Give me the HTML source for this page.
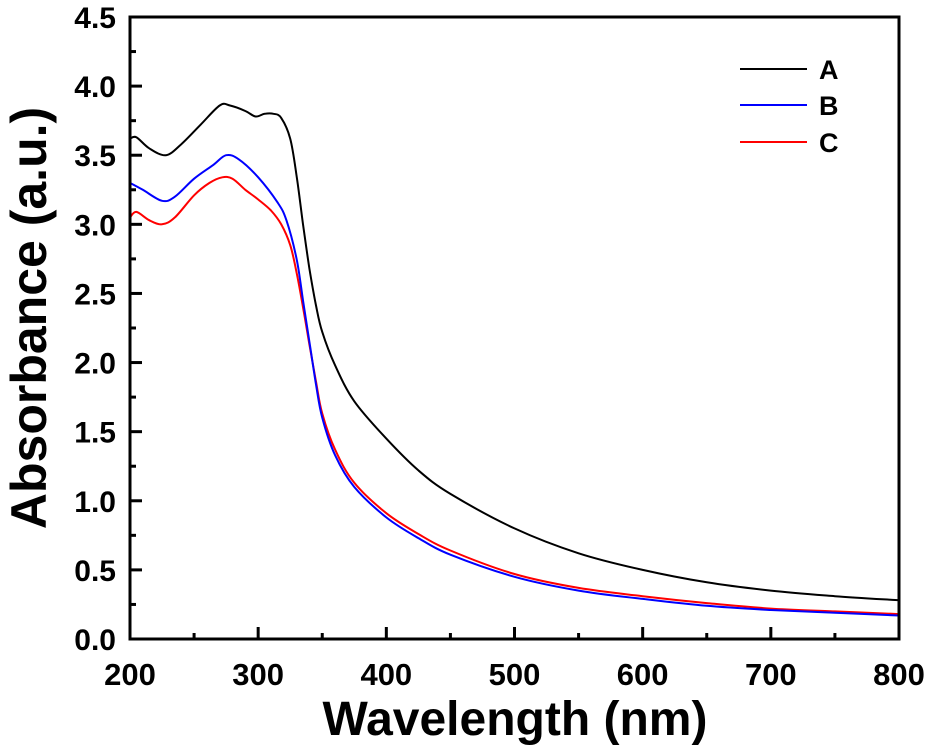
<!DOCTYPE html>
<html><head><meta charset="utf-8"><style>
html,body{margin:0;padding:0;background:#fff;}
svg{display:block;font-family:"Liberation Sans",Arial,sans-serif;font-weight:bold;}
</style></head><body>
<svg id="chart" width="930" height="750"></svg>
<script>
const xTicks=[200,300,400,500,600,700,800];
const yTicks=[0,0.5,1,1.5,2,2.5,3,3.5,4,4.5];
const yTickLabels=["0.0","0.5","1.0","1.5","2.0","2.5","3.0","3.5","4.0","4.5"];
const seriesNames=["A","B","C"];
const wlA=[200,205,215,228,240,255,270,278,290,298,305,312,318,325,330,335,340,345,350,360,375,400,425,450,500,550,600,650,700,750,800];
const absA=[3.62,3.63,3.55,3.50,3.58,3.72,3.86,3.86,3.82,3.78,3.80,3.80,3.77,3.62,3.35,3.0,2.68,2.42,2.22,1.98,1.72,1.45,1.22,1.05,0.80,0.62,0.50,0.41,0.35,0.31,0.28];
const wlB=[200,210,225,235,250,265,275,285,300,315,322,330,335,340,345,350,360,375,400,425,450,500,550,600,650,700,750,800];
const absB=[3.30,3.25,3.17,3.20,3.33,3.43,3.50,3.47,3.34,3.16,3.03,2.75,2.45,2.15,1.85,1.60,1.33,1.10,0.88,0.73,0.61,0.45,0.35,0.29,0.24,0.21,0.19,0.17];
const wlC=[200,205,215,225,235,250,262,272,280,290,300,310,318,325,330,335,340,345,350,360,375,400,425,450,500,550,600,650,700,750,800];
const absC=[3.05,3.09,3.03,3.00,3.05,3.21,3.30,3.34,3.33,3.25,3.18,3.10,3.00,2.85,2.65,2.40,2.13,1.87,1.63,1.37,1.13,0.91,0.76,0.64,0.47,0.37,0.31,0.26,0.22,0.20,0.18];
const colors=["#000000","#0000ff","#ff0000"];
const X0=130,X1=899,Y0=639,Y1=17;
const xs=v=>X0+(v-200)/600*(X1-X0);
const ys=v=>Y0-(v/4.5)*(Y0-Y1);
const svg=document.getElementById('chart');
const NS="http://www.w3.org/2000/svg";
function mk(t,a,p){const e=document.createElementNS(NS,t);for(const k in a)e.setAttribute(k,a[k]);(p||svg).appendChild(e);return e;}
function smooth(pts){
  let d='M'+pts[0][0].toFixed(1)+' '+pts[0][1].toFixed(1);
  for(let i=0;i<pts.length-1;i++){
    const p0=pts[Math.max(0,i-1)],p1=pts[i],p2=pts[i+1],p3=pts[Math.min(pts.length-1,i+2)];
    const c1=[p1[0]+(p2[0]-p0[0])/6,p1[1]+(p2[1]-p0[1])/6];
    const c2=[p2[0]-(p3[0]-p1[0])/6,p2[1]-(p3[1]-p1[1])/6];
    d+=' C'+c1.map(v=>v.toFixed(1)).join(' ')+' '+c2.map(v=>v.toFixed(1)).join(' ')+' '+p2[0].toFixed(1)+' '+p2[1].toFixed(1);
  }
  return d;
}
const data=[[wlA,absA],[wlB,absB],[wlC,absC]];
[2,1,0].forEach(i=>{
  const [w,a]=data[i];
  const pts=w.map((v,j)=>[xs(v),ys(a[j])]);
  const p=mk('path',{d:smooth(pts),fill:'none',stroke:colors[i],'stroke-width':2,'stroke-linejoin':'round'});
  
  
});
const fr=mk('rect',{x:X0,y:Y1,width:X1-X0,height:Y0-Y1,fill:'none',stroke:'#000','stroke-width':3});


xTicks.forEach((v,i)=>{
  mk('line',{x1:xs(v),x2:xs(v),y1:Y0,y2:Y0-12,stroke:'#000','stroke-width':3});
  if(i<xTicks.length-1){const m=v+50;mk('line',{x1:xs(m),x2:xs(m),y1:Y0,y2:Y0-6,stroke:'#000','stroke-width':3});}
  const t=mk('text',{x:xs(v),y:Y0+46,'text-anchor':'middle','font-size':31});
  t.textContent=v;
  
  
});
yTicks.forEach((v,i)=>{
  mk('line',{x1:X0,x2:X0+12,y1:ys(v),y2:ys(v),stroke:'#000','stroke-width':3});
  if(i<yTicks.length-1){const m=v+0.25;mk('line',{x1:X0,x2:X0+6,y1:ys(m),y2:ys(m),stroke:'#000','stroke-width':3});}
  const t=mk('text',{x:X0-14,y:ys(v)+11,'text-anchor':'end','font-size':30});
  t.textContent=yTickLabels[i];
  
  
});
const xt=mk('text',{x:515,y:735,'text-anchor':'middle','font-size':48});
xt.textContent='Wavelength (nm)';


const yt=mk('text',{x:0,y:0,'text-anchor':'middle','font-size':50,transform:'translate(46,318) rotate(-90)'});
yt.textContent='Absorbance (a.u.)';


const ly=[69,105,142];
seriesNames.forEach((n,i)=>{
  const g=mk('g',{});
  
  
  mk('line',{x1:740,x2:807,y1:ly[i],y2:ly[i],stroke:colors[i],'stroke-width':2},g);
  const t=mk('text',{x:819,y:ly[i]+10,'font-size':27},g);
  t.textContent=n;
});
</script>
</body></html>
